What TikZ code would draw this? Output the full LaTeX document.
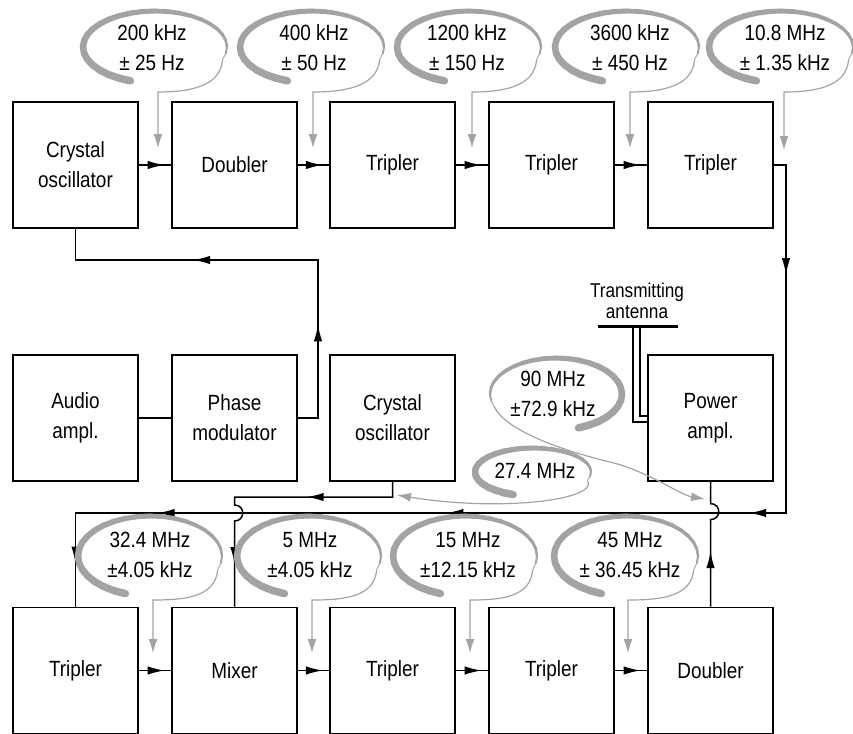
\documentclass[tikz,border=0pt]{standalone}
\usepackage{fontspec}
\setmainfont{Liberation Sans}[FakeStretch=0.86]
\usetikzlibrary{arrows.meta,calc,decorations.markings}
\tikzset{
  boxy/.style    ={rectangle, draw=black, line width=0.9pt, minimum width=62.5pt,
                   minimum height=63pt, align=center, inner sep=2pt,
                   font=\fontsize{11}{15}\selectfont},
  wire/.style    ={draw=black, line width=0.75pt},
  arrowat/.style ={postaction={decorate, decoration={markings,
                   mark=at position #1 with {\arrow{Latex[length=8.5pt,width=4.2pt]}}}}},
  pointer/.style ={draw=black!36, line width=0.6pt, -{Latex[length=7pt,width=4.5pt]}},
  tagtext/.style ={align=center, inner sep=0pt, font=\fontsize{11}{15}\selectfont},
  brushline/.style={draw=black!36, line cap=round},
  pics/brush/.style args={#1/#2}{code={
    \foreach \a in {250,240,...,-10}{
      \pgfmathsetmacro\w{0.45+3.3*((\a+10)/260)^0.55}
      \draw[brushline, line width=\w pt] ({#1*cos(\a)},{-#2*sin(\a)})
        -- ({#1*cos(\a-10)},{-#2*sin(\a-10)});
    }
    \coordinate (-end) at ({#1*cos(-20)},{-#2*sin(-20)});
  }}
}

\begin{document}
\begin{tikzpicture}[x=0.5pt,y=-0.5pt]
\useasboundingbox (0,0) rectangle (853,734);
%% top row: crystal and the multiplier chain
\node[boxy] (xtal)  at (75.5,165)  {Crystal\\oscillator};
\node[boxy] (dbl)   at (234.5,165) {Doubler};
\node[boxy] (tripA) at (392.5,165) {Tripler};
\node[boxy] (tripB) at (551.5,165) {Tripler};
\node[boxy] (tripC) at (710.5,165) {Tripler};
%% middle row
\node[boxy] (audio) at (75.5,418)  {Audio\\ampl.};
\node[boxy] (phase) at (234.5,418) {Phase\\modulator};
\node[boxy] (xtal2) at (392.5,418) {Crystal\\oscillator};
\node[boxy] (pwr)   at (710.5,418) {Power\\ampl.};
%% bottom row
\node[boxy] (tripD) at (75.5,670.5)  {Tripler};
\node[boxy] (mixer) at (234.5,670.5) {Mixer};
\node[boxy] (tripE) at (392.5,670.5) {Tripler};
\node[boxy] (tripF) at (551.5,670.5) {Tripler};
\node[boxy] (dbl2)  at (710.5,670.5) {Doubler};

\draw[wire, arrowat=0.8] (xtal)  -- (dbl);
\draw[wire, arrowat=0.8] (dbl)   -- (tripA);
\draw[wire, arrowat=0.8] (tripA) -- (tripB);
\draw[wire, arrowat=0.8] (tripB) -- (tripC);
\draw[wire, arrowat=0.8] (tripD) -- (mixer);
\draw[wire, arrowat=0.8] (mixer) -- (tripE);
\draw[wire, arrowat=0.8] (tripE) -- (tripF);
\draw[wire, arrowat=0.8] (tripF) -- (dbl2);
\draw[wire] (audio) -- (phase);

%% phase modulator back to the crystal
\coordinate (fbk) at (318,260);
\draw[wire, arrowat=0.252, arrowat=0.671] (phase.east) -| (fbk) -| (xtal.south);

%% chain output down and back along the bus
\coordinate (busR) at (786,513);
\draw[wire, arrowat=0.105, arrowat=0.341, arrowat=0.601, arrowat=0.849,
      arrowat=0.963] (tripC.east) -| (busR) -| (tripD.north);

%% second crystal into the mixer, hopping the bus
\coordinate (loA) at (234.5,497);
\draw[wire, arrowat=0.345, arrowat=0.855] (xtal2.south) |- (loA) -- ++(0,8)
      .. controls +(11,0) and +(11,0) .. ++(0,16) -- (mixer.north);

%% doubler up to the power amplifier, hopping the bus
\draw[wire, arrowat=0.413] (dbl2.north) -- ++(0,-87)
      .. controls +(11,0) and +(11,0) .. ++(0,-16) -- (pwr.south);

%% antenna
\node[inner sep=0pt, align=center, font=\fontsize{10}{10.5}\selectfont]
      (antlbl) at (637,301) {Transmitting\\antenna};
\coordinate (barL)  at (598,326);
\coordinate (barR)  at (678,326);
\coordinate (feedL) at (633,326);
\coordinate (feedR) at (640,326);
\draw[line width=1.5pt] (barL) -- (barR);
\draw[wire, line width=0.6pt] ($(pwr.west)+(0,4)$)  -| (feedL);
\draw[wire, line width=0.6pt] ($(pwr.west)+(0,-2)$) -| (feedR);

%% frequency tags, top row
\pic (f1) at (155,47) {brush=72/36};
\node[tagtext] (f1t) at (152,48) {200 kHz\\± 25 Hz};
\draw[pointer] (f1-end) .. controls +(-2,28) and +(30,0) .. (158,92) -- (158,148);
\pic (f2) at (312,47) {brush=72/36};
\node[tagtext] (f2t) at (314,48) {400 kHz\\± 50 Hz};
\draw[pointer] (f2-end) .. controls +(-2,28) and +(30,0) .. (313,92) -- (313,148);
\pic (f3) at (469,47) {brush=72/36};
\node[tagtext] (f3t) at (467,48) {1200 kHz\\± 150 Hz};
\draw[pointer] (f3-end) .. controls +(-2,28) and +(30,0) .. (472,92) -- (472,148);
\pic (f4) at (627,47) {brush=72/36};
\node[tagtext] (f4t) at (630,48) {3600 kHz\\± 450 Hz};
\draw[pointer] (f4-end) .. controls +(-2,28) and +(30,0) .. (630,92) -- (630,148);
\pic (f5) at (781,47) {brush=72/36};
\node[tagtext] (f5t) at (785,48) {10.8 MHz\\± 1.35 kHz};
\draw[pointer] (f5-end) .. controls +(-2,28) and +(30,0) .. (784,92) -- (784,150);

%% frequency tags, bottom row
\pic (g1) at (150,556) {brush=72/40};
\node[tagtext] (g1t) at (150,555) {32.4 MHz\\±4.05 kHz};
\draw[pointer] (g1-end) .. controls +(-2,28) and +(30,0) .. (153,600) -- (153,653);
\pic (g2) at (309,556) {brush=72/40};
\node[tagtext] (g2t) at (310,555) {5 MHz\\±4.05 kHz};
\draw[pointer] (g2-end) .. controls +(-2,28) and +(30,0) .. (312,600) -- (312,653);
\pic (g3) at (465,556) {brush=72/40};
\node[tagtext] (g3t) at (468,555) {15 MHz\\±12.15 kHz};
\draw[pointer] (g3-end) .. controls +(-2,28) and +(30,0) .. (470,600) -- (470,653);
\pic (g4) at (626,556) {brush=72/40};
\node[tagtext] (g4t) at (630,555) {45 MHz\\± 36.45 kHz};
\draw[pointer] (g4-end) .. controls +(-2,28) and +(30,0) .. (628,600) -- (628,653);

%% frequency tags, middle
\pic[xscale=-1] (h1) at (556,394) {brush=66/36};
\node[tagtext] (h1t) at (553,394) {90 MHz\\±72.9 kHz};
\draw[pointer] (h1-end) .. controls (505,430) and (560,450) .. (610,462)
      .. controls (650,472) and (680,495) .. (705,499);
\pic (h2) at (533,472) {brush=58/24};
\node[tagtext] (h2t) at (535,471) {27.4 MHz};
\draw[pointer] (h2-end) .. controls (600,500) and (500,512) .. (397,495);
\end{tikzpicture}
\end{document}
